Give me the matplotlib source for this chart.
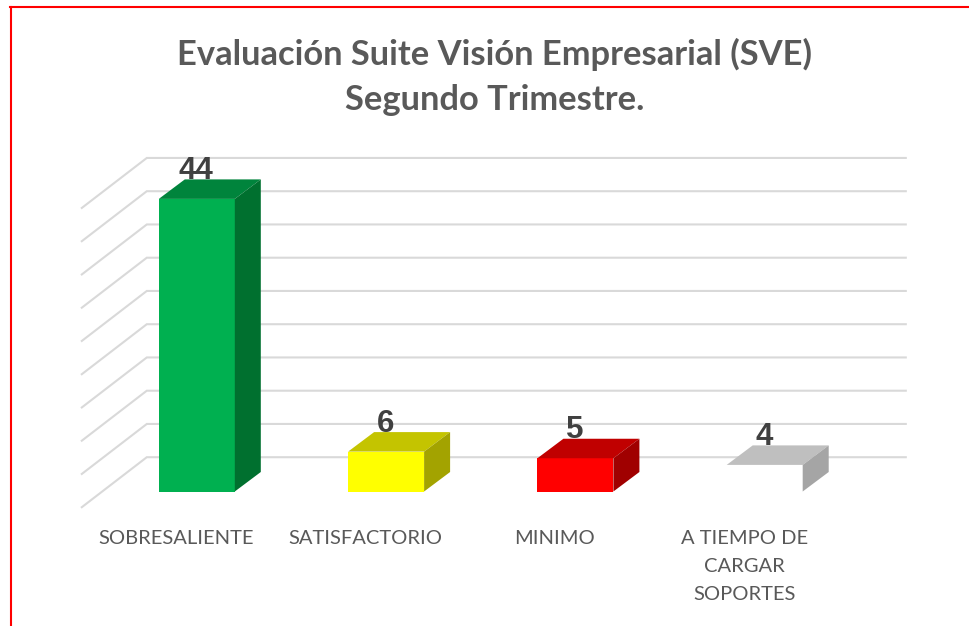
import matplotlib
matplotlib.use('Agg')
import matplotlib.pyplot as plt
from matplotlib.lines import Line2D
from matplotlib.patches import Polygon

categorias = ['SOBRESALIENTE', 'SATISFACTORIO', 'MINIMO', 'A TIEMPO DE\nCARGAR\nSOPORTES']
valores = [44, 6, 5, 4]
niveles = [0, 5, 10, 15, 20, 25, 30, 35, 40, 45]

color_frente = ['#00B050', '#FFFF00', '#FF0000', '#FFFFFF']
color_arriba = ['#00843C', '#C4C400', '#C00000', '#BFBFBF']
color_lado = ['#00702F', '#A3A300', '#A00000', '#A5A5A5']

W, H = 969, 626
PX_X = 189.3   # pixeles por categoria
PX_Y = 6.65    # pixeles por unidad
Y0 = 491.5     # pixel del cero


# pixeles -> unidades de datos
def dx(px):
    return px / PX_X


def dy(px):
    return px / PX_Y


fig = plt.figure(figsize=(W / 100, H / 100), dpi=100, facecolor='white')
ax = fig.add_axes([0, 0, 1, 1])
ax.set_xlim(-196.8 / PX_X, (W - 196.8) / PX_X)
ax.set_ylim(-(H - Y0) / PX_Y, Y0 / PX_Y)
ax.axis('off')

# marco rojo
fig.add_artist(Line2D([10.5 / W, 10.5 / W], [0, 1 - 7 / H], color='#FF0000', lw=1.5))
fig.add_artist(Line2D([10 / W, 1], [1 - 7 / H, 1 - 7 / H], color='#FF0000', lw=1.5))

# paredes: lineas de fondo y diagonales
piso = dy(34.3)
x_izq, x_der = dx(147 - 197), dx(906 - 197)
for n in niveles:
    y = n + piso
    ax.plot([x_izq - dx(65), x_izq, x_der], [y - dy(50), y, y],
            color='#D9D9D9', lw=1.5, zorder=1, solid_joinstyle='miter')

# barras 3D
ancho = 76 / PX_X
prof_x, prof_y = dx(26), dy(19.5)
for i, v in enumerate(valores):
    x0, x1 = i - ancho / 2, i + ancho / 2
    ax.add_patch(Polygon([(x0, 0), (x1, 0), (x1, v), (x0, v)],
                         fc=color_frente[i], ec='none', zorder=3))
    ax.add_patch(Polygon([(x0, v), (x1, v), (x1 + prof_x, v + prof_y), (x0 + prof_x, v + prof_y)],
                         fc=color_arriba[i], ec='none', zorder=3))
    ax.add_patch(Polygon([(x1, 0), (x1 + prof_x, prof_y), (x1 + prof_x, v + prof_y), (x1, v)],
                         fc=color_lado[i], ec='none', zorder=3))
    # etiqueta de valor
    ax.text(i - dx(1), v + dy(20), str(v), ha='center', va='baseline', family='Liberation Sans',
            fontweight='bold', fontsize=22.5, color='#404040', zorder=4)
    # etiqueta de categoria
    ax.text(i - dx(20.5), dy(-39), categorias[i], ha='center', va='top', family='Lato',
            fontsize=14.5, color='#595959', linespacing=1.78, zorder=4)

# titulo
ax.text(dx(495 - 197), dy(Y0 - 76.5), 'Evaluación Suite Visión Empresarial (SVE)\nSegundo Trimestre.',
        ha='center', va='center', family='Lato', fontweight='bold', fontsize=24.8,
        color='#595959', linespacing=1.5)

fig.savefig('out.png', dpi=100)
